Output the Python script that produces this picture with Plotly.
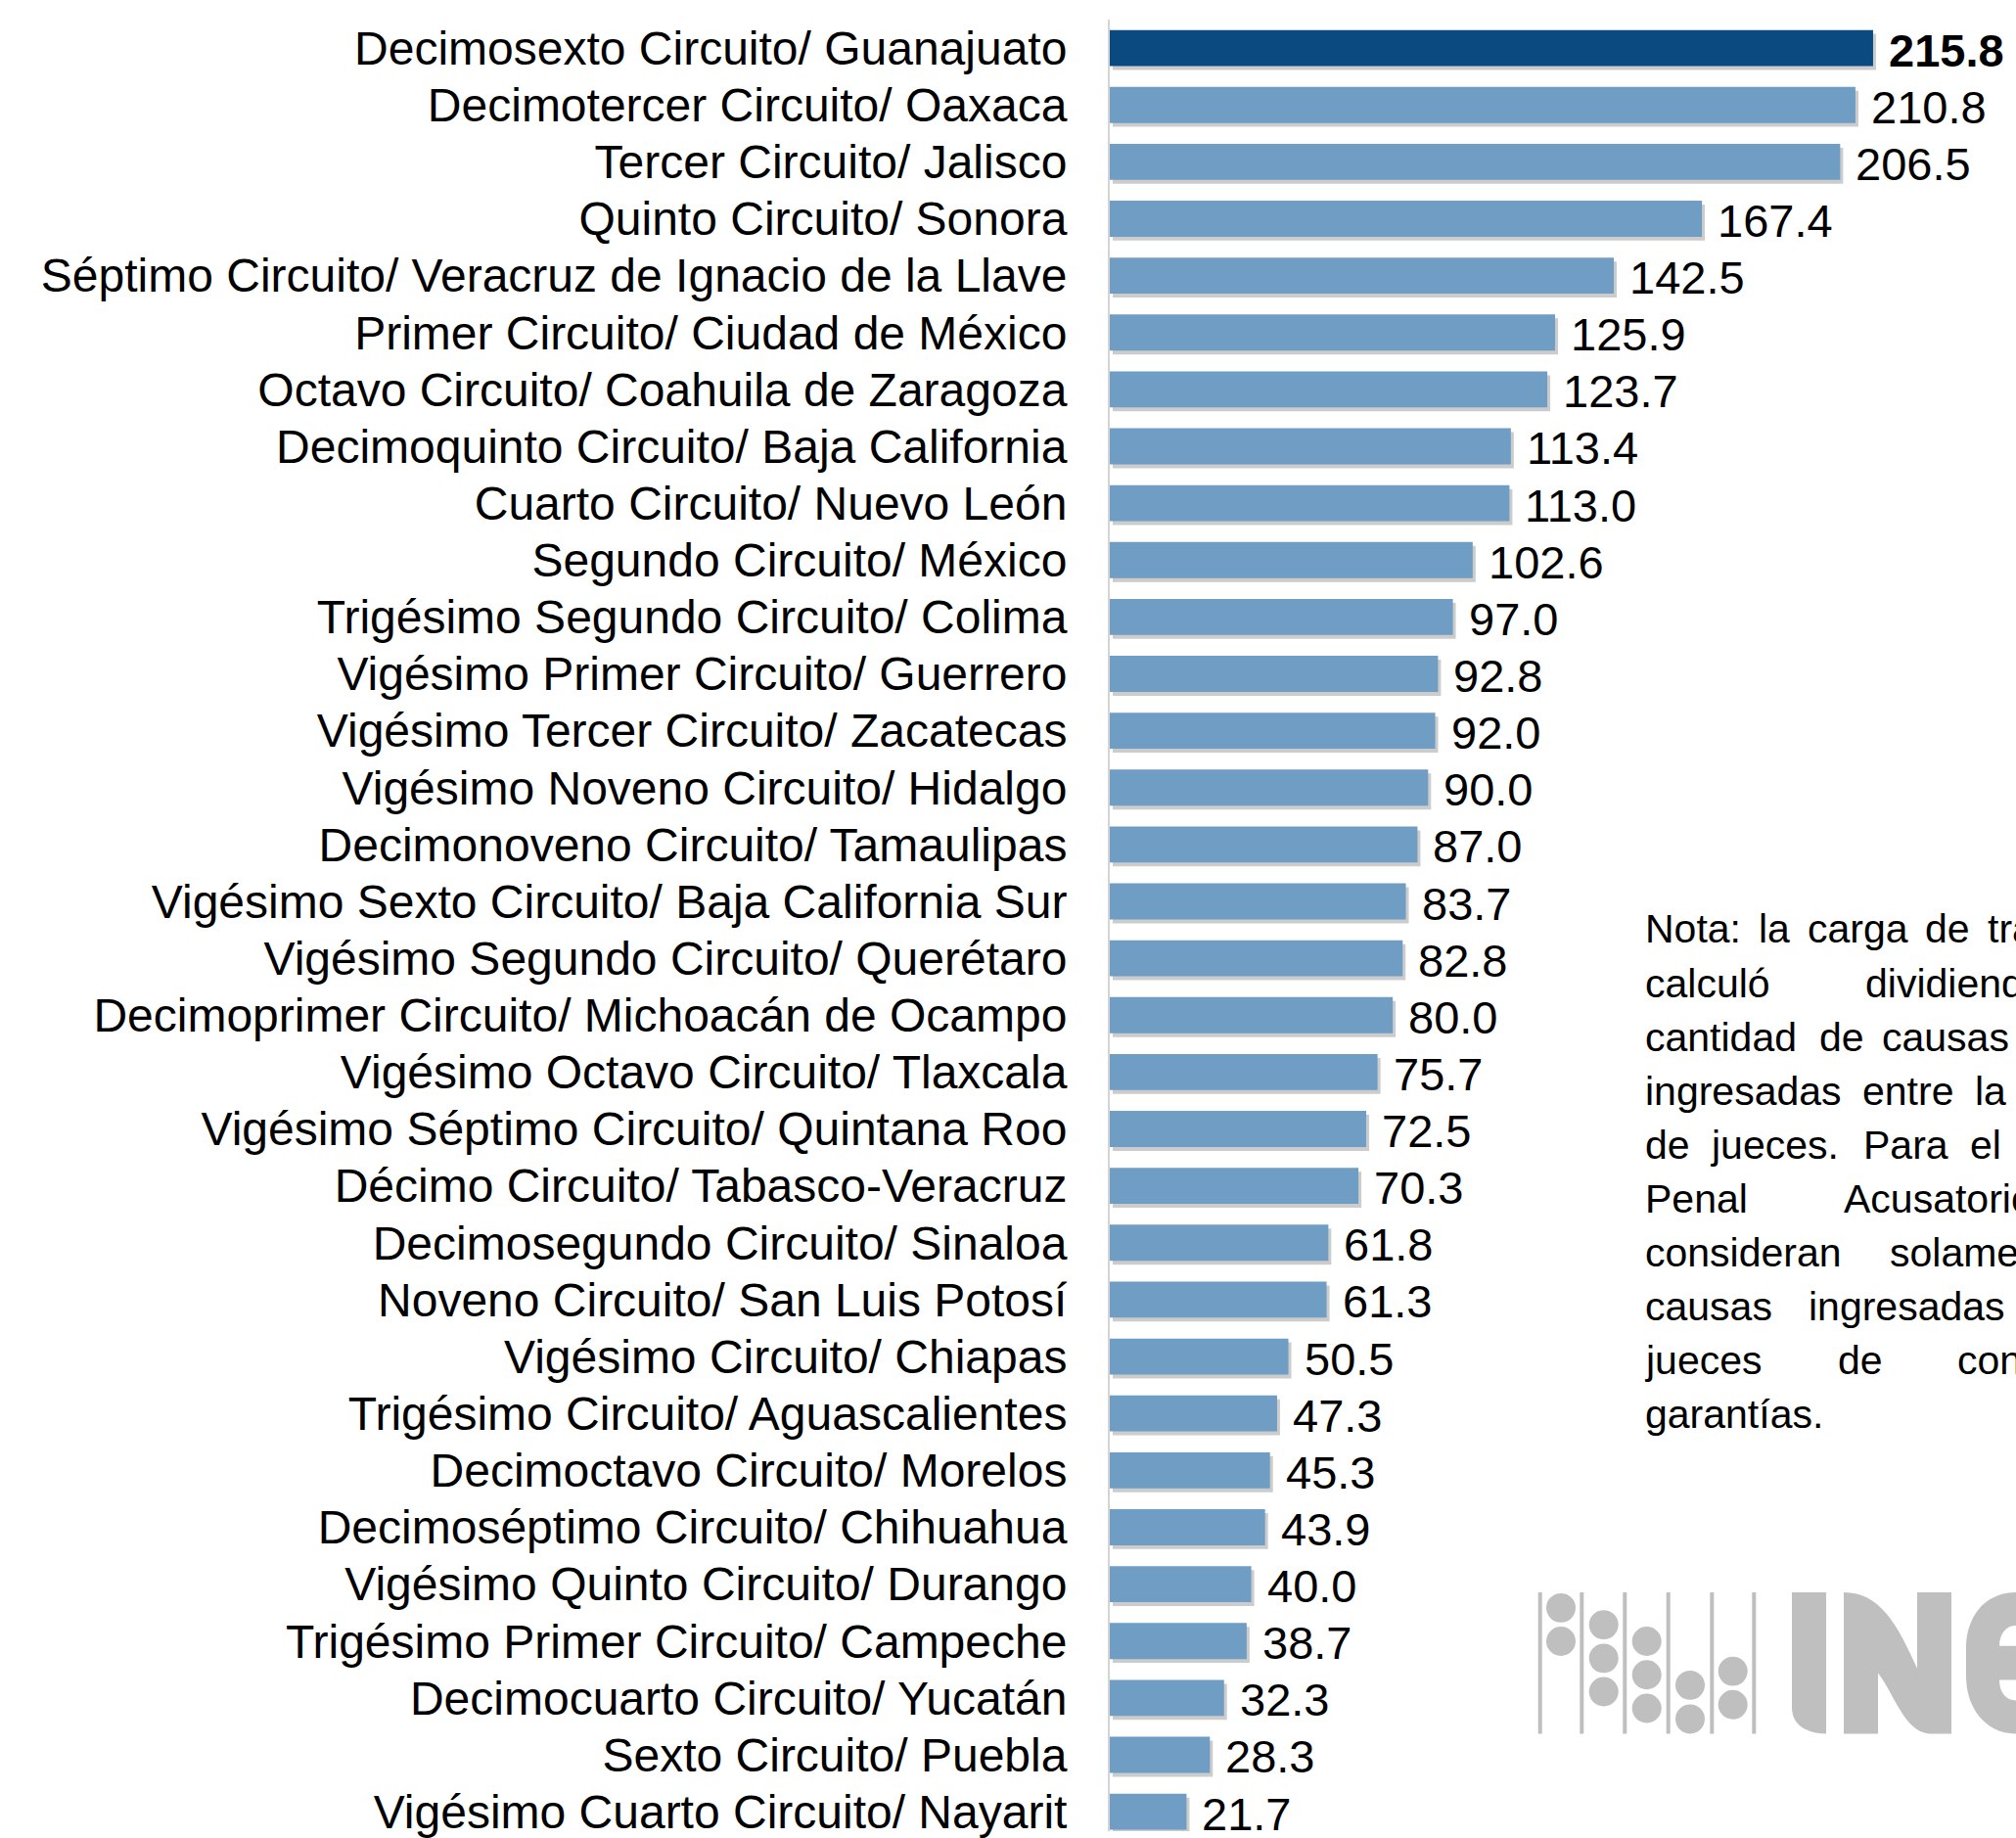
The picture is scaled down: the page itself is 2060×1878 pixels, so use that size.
import plotly.graph_objects as go

categories = [
    "Decimosexto Circuito/ Guanajuato",
    "Decimotercer Circuito/ Oaxaca",
    "Tercer Circuito/ Jalisco",
    "Quinto Circuito/ Sonora",
    "Séptimo Circuito/ Veracruz de Ignacio de la Llave",
    "Primer Circuito/ Ciudad de México",
    "Octavo Circuito/ Coahuila de Zaragoza",
    "Decimoquinto Circuito/ Baja California",
    "Cuarto Circuito/ Nuevo León",
    "Segundo Circuito/ México",
    "Trigésimo Segundo Circuito/ Colima",
    "Vigésimo Primer Circuito/ Guerrero",
    "Vigésimo Tercer Circuito/ Zacatecas",
    "Vigésimo Noveno Circuito/ Hidalgo",
    "Decimonoveno Circuito/ Tamaulipas",
    "Vigésimo Sexto Circuito/ Baja California Sur",
    "Vigésimo Segundo Circuito/ Querétaro",
    "Decimoprimer Circuito/ Michoacán de Ocampo",
    "Vigésimo Octavo Circuito/ Tlaxcala",
    "Vigésimo Séptimo Circuito/ Quintana Roo",
    "Décimo Circuito/ Tabasco-Veracruz",
    "Decimosegundo Circuito/ Sinaloa",
    "Noveno Circuito/ San Luis Potosí",
    "Vigésimo Circuito/ Chiapas",
    "Trigésimo Circuito/ Aguascalientes",
    "Decimoctavo Circuito/ Morelos",
    "Decimoséptimo Circuito/ Chihuahua",
    "Vigésimo Quinto Circuito/ Durango",
    "Trigésimo Primer Circuito/ Campeche",
    "Decimocuarto Circuito/ Yucatán",
    "Sexto Circuito/ Puebla",
    "Vigésimo Cuarto Circuito/ Nayarit",
]

values = [
    215.8, 210.8, 206.5, 167.4, 142.5, 125.9, 123.7, 113.4, 113.0, 102.6,
    97.0, 92.8, 92.0, 90.0, 87.0, 83.7, 82.8, 80.0, 75.7, 72.5,
    70.3, 61.8, 61.3, 50.5, 47.3, 45.3, 43.9, 40.0, 38.7, 32.3,
    28.3, 21.7,
]

highlighted = ["Decimosexto Circuito/ Guanajuato"]

note_lines = [
    ["Nota:", "la", "carga", "de", "trabajo"],
    ["calculó", "dividiendo"],
    ["cantidad", "de", "causas"],
    ["ingresadas", "entre", "la"],
    ["de", "jueces.", "Para", "el"],
    ["Penal", "Acusatorio"],
    ["consideran", "solamente"],
    ["causas", "ingresadas"],
    ["jueces", "de", "control"],
    ["garantías."],
]

# ---- layout geometry (pixels) ----
W, H = 2060, 1878
L, T = 1134, 20
PW, PH = W - L, H - T
X_MAX = 256.2
ROW = 58.35
Y_BOTTOM = -0.5 + PH / ROW
Y_TOP = -0.5
KX = PW / X_MAX
SH_DX, SH_DY = 3, 4

FONT = "Arial, 'Liberation Sans', sans-serif"
DARK = "#0B4A80"
LIGHT = "#6F9DC4"
LOGO = "#BFBFBF"

colors = [DARK if c in highlighted else LIGHT for c in categories]


def px(x):
    return (x - L) / PW


def py(y):
    return 1 - (y - T) / PH


fig = go.Figure()

# drop shadow (base axes, shifted by a few pixels)
fig.add_trace(go.Bar(
    x=values, y=categories, orientation="h",
    marker=dict(color="rgba(0,0,0,0.2)", line=dict(width=0)),
    xaxis="x", yaxis="y", hoverinfo="skip", showlegend=False,
))

# main bars (overlay axes)
fig.add_trace(go.Bar(
    x=values, y=categories, orientation="h",
    marker=dict(color=colors, line=dict(width=0)),
    xaxis="x2", yaxis="y2", showlegend=False,
))

annotations = []
for c, v in zip(categories, values):
    t = f"{v:.1f}"
    if c in highlighted:
        t = f"<b>{t}</b>"
    annotations.append(dict(
        x=v, y=c, xref="x2", yref="y2", text=t, showarrow=False,
        xanchor="left", yanchor="middle", xshift=14, yshift=-2,
        font=dict(family=FONT, size=47, color="black"),
    ))

# note text (justified word placement)
word_x = [
    [1680, 1796, 1846, 1966, 2030],
    [1680, 1905],
    [1680, 1858, 1922],
    [1680, 1902, 2017],
    [1680, 1747, 1903, 2012],
    [1680, 1883],
    [1680, 1930],
    [1680, 1847],
    [1680, 1877, 1999],
    [1680],
]
base0, pitch = 966, 55.3
for i, (words, xs) in enumerate(zip(note_lines, word_x)):
    yb = base0 + i * pitch
    for w, xx in zip(words, xs):
        annotations.append(dict(
            x=px(xx), y=py(yb - 13), xref="paper", yref="paper", text=w,
            showarrow=False, xanchor="left", yanchor="middle",
            font=dict(family=FONT, size=41, color="black"),
            borderpad=0,
        ))

# ---- logo (decorative) ----
shapes = []
for lx in [1573.7, 1616.3, 1660.3, 1704.7, 1749.3, 1792.3]:
    shapes.append(dict(type="rect", xref="paper", yref="paper",
                       x0=px(lx - 2), x1=px(lx + 2), y0=py(1778), y1=py(1633),
                       fillcolor=LOGO, line=dict(width=0), layer="above"))
circles = [(1595, 1649), (1595, 1683.3),
           (1638.7, 1666.3), (1638.7, 1700.7), (1638.7, 1735),
           (1682.7, 1683.3), (1682.7, 1717.7), (1682.7, 1752),
           (1727, 1728.3), (1727, 1763),
           (1770.7, 1714), (1770.7, 1748.3)]
for cx, cy in circles:
    shapes.append(dict(type="circle", xref="paper", yref="paper",
                       x0=px(cx - 15), x1=px(cx + 15), y0=py(cy + 15), y1=py(cy - 15),
                       fillcolor=LOGO, line=dict(width=0), layer="above"))


def path(cmds):
    out = []
    for c in cmds:
        if isinstance(c, str):
            out.append(c)
        else:
            out.append(f"{px(c[0]):.5f},{py(c[1] + 1):.5f}")
    return " ".join(out)


letter_paths = [
    # I
    ["M", (1831, 1632), "L", (1866, 1632), "L", (1866, 1777),
     "C", (1846, 1777), (1831, 1768), (1831, 1750), "Z"],
    # N
    ["M", (1884, 1632), "C", (1921, 1632), (1939, 1665), (1959, 1710),
     "L", (1959, 1632), "L", (1994, 1632), "L", (1994, 1777), "L", (1971, 1777),
     "C", (1946, 1775), (1936, 1737), (1919, 1715), "L", (1919, 1777), "L", (1884, 1777), "Z"],
    # E (partially visible)
    ["M", (2075, 1632), "L", (2060, 1632), "C", (2030, 1632), (2009, 1655), (2009, 1690),
     "L", (2009, 1718), "C", (2009, 1752), (2030, 1777), (2060, 1777), "L", (2075, 1777),
     "L", (2075, 1743), "L", (2060, 1743), "C", (2050, 1743), (2043, 1735), (2043, 1722),
     "L", (2075, 1722), "L", (2075, 1687), "L", (2043, 1687),
     "C", (2043, 1675), (2050, 1666), (2060, 1666), "L", (2075, 1666), "Z"],
]
for p in letter_paths:
    shapes.append(dict(type="path", xref="paper", yref="paper", path=path(p),
                       fillcolor=LOGO, line=dict(width=0), layer="above"))

fig.update_layout(
    width=W, height=H,
    margin=dict(l=L, r=0, t=T, b=0, pad=0),
    paper_bgcolor="white", plot_bgcolor="white",
    bargap=1 - 37 / ROW,
    showlegend=False,
    font=dict(family=FONT, color="black"),
    xaxis=dict(range=[-SH_DX / KX, X_MAX - SH_DX / KX], visible=False, fixedrange=True),
    yaxis=dict(type="category", categoryorder="array", categoryarray=categories,
               range=[Y_BOTTOM - SH_DY / ROW, Y_TOP - SH_DY / ROW], visible=False),
    xaxis2=dict(range=[0, X_MAX], overlaying="x", anchor="y2", visible=False),
    yaxis2=dict(type="category", categoryorder="array", categoryarray=categories,
                range=[Y_BOTTOM, Y_TOP], overlaying="y", anchor="x2", side="left",
                showline=True, linecolor="#D4D4D4", linewidth=2,
                showgrid=False, zeroline=False, ticks="",
                ticklabelstandoff=32,
                tickfont=dict(family=FONT, size=48, color="black")),
    annotations=annotations,
    shapes=shapes,
)

fig.write_html("out.html", config={"displayModeBar": False},
               post_script="document.body.style.margin='0px';document.body.style.overflow='hidden';")
